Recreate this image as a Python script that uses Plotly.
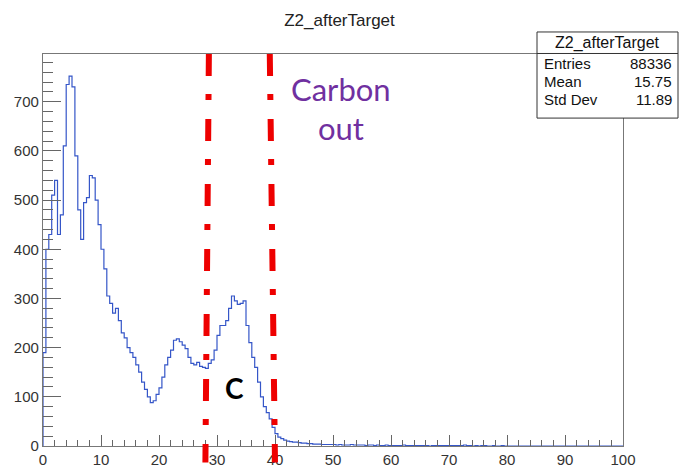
import plotly.graph_objects as go

# ---------------- data ----------------
bin_width = 0.5
x_min, x_max = 0.0, 100.0

counts_main = [
    190, 400, 430, 510, 540, 430, 470, 610, 735, 752,
    730, 590, 480, 420, 495, 505, 550, 545, 500, 450,
    400, 360, 305, 290, 270, 280, 255, 230, 220, 200,
    190, 180, 165, 150, 130, 115, 100, 88, 92, 105,
    118, 140, 165, 180, 195, 215, 218, 212, 205, 198,
    180, 168, 165, 170, 162, 160, 158, 168, 175, 195,
    225, 245, 245, 255, 280, 305, 295, 288, 290, 295,
    245, 210, 180, 160, 130, 100, 80, 68, 55, 38,
    25, 18, 15, 12, 10, 9, 8, 8, 7, 6,
    6, 5,
]
counts_tail = [
    5, 4, 4, 4, 3, 3, 3, 3,
    3, 2, 3, 2, 2, 2, 3, 2, 2, 2, 2, 1, 2, 2, 1, 2, 1, 1, 2, 1,
    1, 1, 1, 1, 2, 1, 1, 1, 1, 1, 1, 1, 1, 0, 1, 1, 1, 1, 1, 1,
    1, 1, 1, 1, 1, 2, 1, 1, 0, 1, 0, 1, 1, 0, 0, 1, 0, 0, 1, 0,
] + [0] * 40
counts = counts_main + counts_tail

hist_title = "Z2_afterTarget"
stats_labels = ["Entries", "Mean", "Std Dev"]
stats_values = ["88336", "15.75", "11.89"]

cut_lines = [(28.6, 28.0), (39.1, 40.0)]  # (top x, bottom x)

x_ticks = list(range(0, 101, 10))
y_ticks = list(range(0, 701, 100))

# ---------------- build step outline ----------------
n = len(counts)
xs = [x_min]
ys = [0]
for i, c in enumerate(counts):
    xs.append(x_min + i * bin_width)
    ys.append(c)
xs.append(x_min + n * bin_width)
ys.append(counts[-1])

fig = go.Figure()
fig.add_trace(go.Scatter(
    x=xs, y=ys, mode="lines", line=dict(shape="hv", color="#3556c8", width=1.2),
    hoverinfo="skip", showlegend=False,
))

tick_font = dict(family="Liberation Sans, Arial, sans-serif", size=15, color="#333333")

fig.update_layout(
    width=679, height=467,
    margin=dict(l=43, r=56, t=54, b=21, autoexpand=False),
    paper_bgcolor="white", plot_bgcolor="white",
    title=dict(text=hist_title, x=0.5, xref="container", xanchor="center",
               y=1 - 20 / 467, yref="container", yanchor="middle",
               font=dict(family="Liberation Sans, Arial, sans-serif", size=17, color="#222222")),
    xaxis=dict(range=[x_min, x_max], tickvals=x_ticks, ticks="inside", ticklen=11,
               tickcolor="#666666", tickwidth=1, showgrid=False, zeroline=False,
               showline=True, linecolor="#777777", linewidth=1.2, mirror=True,
               tickfont=tick_font, automargin=False,
               minor=dict(dtick=2, ticks="inside", ticklen=6, tickcolor="#666666", showgrid=False)),
    yaxis=dict(range=[0, 797], tickvals=y_ticks, ticks="inside", ticklen=18,
               tickcolor="#666666", tickwidth=1, showgrid=False, zeroline=False,
               showline=True, linecolor="#777777", linewidth=1.2, mirror=True,
               tickfont=tick_font, automargin=False,
               minor=dict(dtick=20, ticks="inside", ticklen=10, tickcolor="#666666", showgrid=False)),
)

# red dash-dot cut lines
for xt, xb in cut_lines:
    fig.add_shape(type="line", xref="x", yref="paper", x0=xt, y0=1.0, x1=xb, y1=-0.042,
                  line=dict(color="#ee0000", width=6, dash="22px,18px,6px,19px"), layer="above")

# annotations
def px2x(px):
    return (px - 43) / 580

def py2y(py):
    return (445.5 - py) / 391.5

fig.add_annotation(text="Carbon", xref="paper", yref="paper", x=px2x(341), y=py2y(89),
                   showarrow=False, xanchor="center", yanchor="middle",
                   font=dict(family="Lato, Open Sans, sans-serif", size=31, color="#7030A0"))
fig.add_annotation(text="out", xref="paper", yref="paper", x=px2x(341), y=py2y(128),
                   showarrow=False, xanchor="center", yanchor="middle",
                   font=dict(family="Lato, Open Sans, sans-serif", size=31, color="#7030A0"))
fig.add_annotation(text="<b>C</b>", xref="paper", yref="paper", x=px2x(234), y=py2y(388),
                   showarrow=False, xanchor="center", yanchor="middle",
                   font=dict(family="Lato, Open Sans, sans-serif", size=28, color="#000000"))

# stats box
fig.add_shape(type="rect", xref="paper", yref="paper", x0=px2x(537), x1=px2x(678),
              y0=py2y(118), y1=py2y(32), line=dict(color="#333333", width=1), fillcolor="white",
              layer="above")
fig.add_shape(type="line", xref="paper", yref="paper", x0=px2x(537), x1=px2x(678),
              y0=py2y(53.5), y1=py2y(53.5), line=dict(color="#333333", width=1), layer="above")
stat_font = dict(family="Liberation Sans, Arial, sans-serif", size=15, color="#111111")
fig.add_annotation(text=hist_title, xref="paper", yref="paper", x=px2x(607.5), y=py2y(43),
                   showarrow=False, xanchor="center", yanchor="middle",
                   font=dict(family="Liberation Sans, Arial, sans-serif", size=16, color="#111111"))
for i, (lab, val) in enumerate(zip(stats_labels, stats_values)):
    yy = py2y(63 + i * 18)
    fig.add_annotation(text=lab, xref="paper", yref="paper", x=px2x(542), y=yy,
                       showarrow=False, xanchor="left", yanchor="middle", font=stat_font)
    fig.add_annotation(text=val, xref="paper", yref="paper", x=px2x(674), y=yy,
                       showarrow=False, xanchor="right", yanchor="middle", font=stat_font)

fig.write_html("out.html")
